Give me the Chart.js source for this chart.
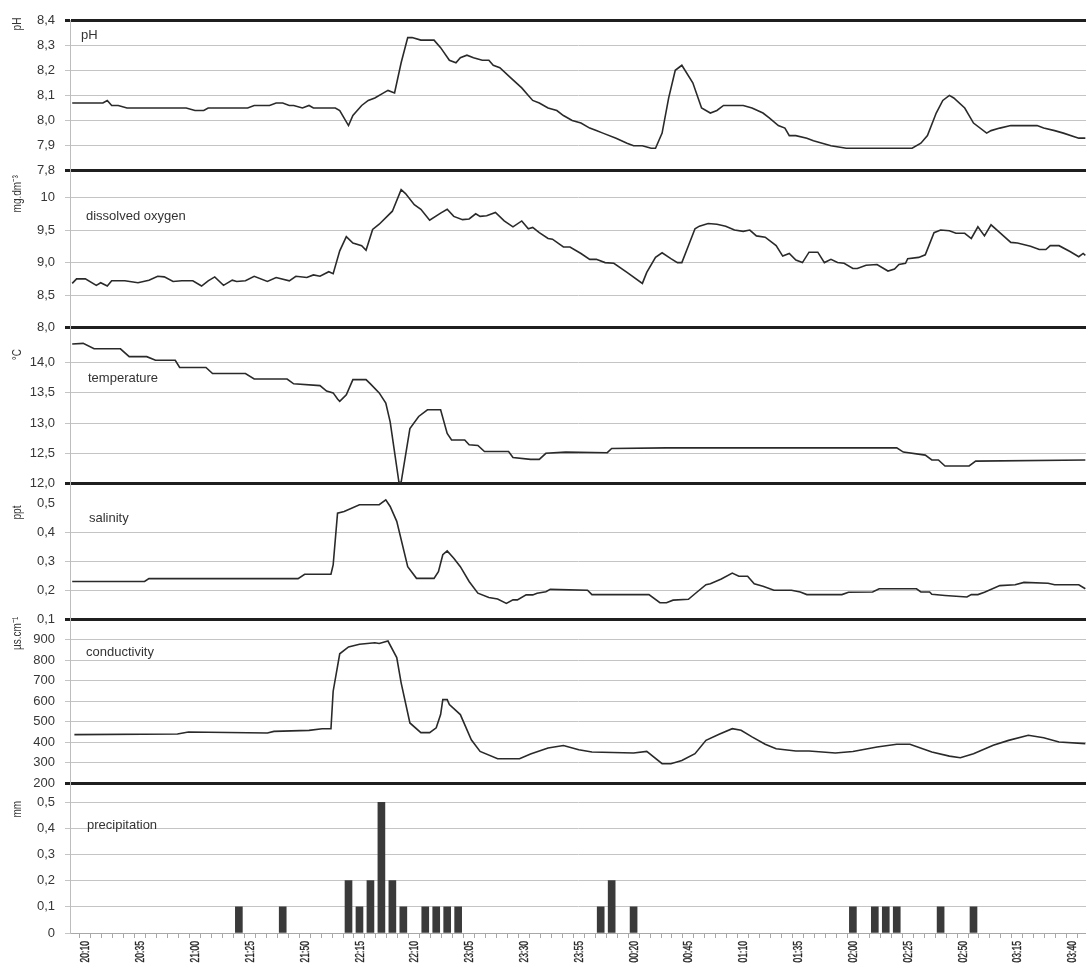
<!DOCTYPE html>
<html>
<head>
<meta charset="utf-8">
<title>Water quality and precipitation, night record</title>
<script src="https://cdn.jsdelivr.net/npm/chart.js@4.4.1/dist/chart.umd.min.js"></script>
<style>
  html, body { margin: 0; padding: 0; background: #ffffff; }
  #wrap { position: relative; width: 1086px; height: 972px; }
</style>
</head>
<body>
<div id="wrap"><canvas id="chart"></canvas></div>
<script>
// ---- measurements (time = minutes after 20:10) ----
const phTime = [-6, 8, 10, 12, 15, 19, 46, 50, 54, 56, 74, 77, 84, 87, 90, 93, 95, 99, 102, 104, 114, 116, 120, 122, 126, 129, 132, 136, 138, 141, 144, 147, 149, 153, 159, 162, 166, 169, 171, 174, 177, 181, 184, 186, 189, 194, 199, 202, 204, 207, 211, 215, 218, 222, 226, 230, 233, 236, 242, 247, 250, 254, 258, 260, 263, 266, 269, 272, 277, 281, 285, 288, 291, 300, 304, 309, 312, 316, 319, 321, 324, 329, 332, 336, 340, 347, 377, 381, 384, 388, 391, 394, 396, 401, 405, 411, 413, 417, 422, 434, 437, 442, 446, 453, 456];
const phValue = [8.07, 8.07, 8.08, 8.06, 8.06, 8.05, 8.05, 8.04, 8.04, 8.05, 8.05, 8.06, 8.06, 8.07, 8.07, 8.06, 8.06, 8.05, 8.06, 8.05, 8.05, 8.04, 7.98, 8.02, 8.06, 8.08, 8.09, 8.11, 8.12, 8.11, 8.23, 8.33, 8.33, 8.32, 8.32, 8.29, 8.24, 8.23, 8.25, 8.26, 8.25, 8.24, 8.24, 8.22, 8.21, 8.17, 8.13, 8.10, 8.08, 8.07, 8.05, 8.04, 8.02, 8.00, 7.99, 7.97, 7.96, 7.95, 7.93, 7.91, 7.90, 7.90, 7.89, 7.89, 7.95, 8.09, 8.20, 8.22, 8.15, 8.05, 8.03, 8.04, 8.06, 8.06, 8.05, 8.03, 8.01, 7.98, 7.97, 7.94, 7.94, 7.93, 7.92, 7.91, 7.90, 7.89, 7.89, 7.91, 7.94, 8.03, 8.08, 8.10, 8.09, 8.05, 7.99, 7.95, 7.96, 7.97, 7.98, 7.98, 7.97, 7.96, 7.95, 7.93, 7.93];

const oxygenTime = [-6, -4, 0, 5, 7, 10, 12, 18, 24, 29, 33, 36, 40, 44, 49, 53, 56, 59, 63, 67, 69, 73, 77, 83, 87, 93, 96, 101, 104, 107, 111, 113, 116, 119, 122, 126, 128, 131, 134, 140, 144, 146, 150, 153, 157, 162, 165, 168, 172, 175, 178, 180, 183, 187, 191, 195, 199, 202, 204, 207, 211, 213, 218, 221, 226, 230, 233, 237, 241, 247, 254, 256, 260, 263, 267, 270, 272, 275, 278, 280, 284, 288, 292, 296, 300, 303, 306, 310, 315, 318, 321, 324, 327, 330, 334, 337, 340, 343, 346, 350, 352, 356, 361, 366, 369, 371, 374, 375, 380, 383, 387, 390, 394, 397, 401, 404, 407, 410, 413, 417, 422, 425, 431, 435, 438, 440, 444, 449, 453, 455, 456];
const oxygenValue = [8.68, 8.75, 8.75, 8.65, 8.69, 8.64, 8.72, 8.72, 8.69, 8.73, 8.79, 8.78, 8.71, 8.72, 8.72, 8.64, 8.72, 8.78, 8.65, 8.73, 8.71, 8.72, 8.79, 8.71, 8.77, 8.72, 8.79, 8.77, 8.81, 8.79, 8.86, 8.83, 9.18, 9.40, 9.30, 9.26, 9.19, 9.51, 9.59, 9.79, 10.12, 10.06, 9.89, 9.82, 9.65, 9.76, 9.82, 9.71, 9.66, 9.67, 9.75, 9.71, 9.72, 9.77, 9.64, 9.55, 9.64, 9.52, 9.54, 9.46, 9.37, 9.36, 9.24, 9.24, 9.14, 9.05, 9.05, 9.00, 8.99, 8.85, 8.68, 8.85, 9.08, 9.15, 9.06, 9.00, 9.00, 9.26, 9.52, 9.56, 9.60, 9.59, 9.56, 9.50, 9.48, 9.50, 9.41, 9.39, 9.26, 9.10, 9.14, 9.04, 9.00, 9.16, 9.16, 9.00, 9.05, 9.00, 8.99, 8.91, 8.91, 8.96, 8.97, 8.87, 8.90, 8.97, 8.99, 9.06, 9.08, 9.12, 9.46, 9.50, 9.49, 9.45, 9.45, 9.37, 9.55, 9.41, 9.58, 9.46, 9.31, 9.30, 9.25, 9.20, 9.20, 9.26, 9.26, 9.17, 9.09, 9.14, 9.11];

const tempTime = [-6, -1, 4, 16, 20, 28, 32, 41, 43, 55, 58, 73, 77, 92, 95, 107, 110, 113, 115, 116, 119, 122, 128, 130, 134, 137, 139, 143, 144, 148, 152, 156, 162, 165, 167, 173, 175, 179, 182, 193, 195, 203, 207, 210, 219, 238, 240, 265, 370, 373, 383, 386, 389, 392, 403, 406, 456];
const tempValue = [14.31, 14.32, 14.23, 14.23, 14.10, 14.10, 14.04, 14.04, 13.92, 13.92, 13.82, 13.82, 13.73, 13.73, 13.65, 13.62, 13.53, 13.50, 13.40, 13.36, 13.47, 13.72, 13.72, 13.65, 13.50, 13.33, 13.02, 12.02, 12.02, 12.91, 13.11, 13.22, 13.22, 12.83, 12.72, 12.72, 12.64, 12.63, 12.53, 12.53, 12.43, 12.40, 12.40, 12.50, 12.52, 12.51, 12.58, 12.59, 12.59, 12.52, 12.47, 12.39, 12.39, 12.29, 12.29, 12.37, 12.39];

const salinityTime = [-6, 27, 29, 97, 100, 112, 113, 115, 118, 125, 134, 137, 139, 142, 147, 151, 159, 161, 163, 165, 168, 171, 175, 179, 184, 188, 192, 195, 197, 201, 204, 206, 210, 212, 229, 231, 257, 262, 265, 268, 275, 278, 283, 285, 290, 295, 298, 302, 305, 309, 314, 322, 326, 329, 345, 348, 359, 362, 379, 381, 385, 386, 392, 402, 404, 407, 410, 417, 424, 428, 439, 442, 453, 456];
const salinityValue = [0.23, 0.23, 0.24, 0.24, 0.255, 0.255, 0.287, 0.465, 0.471, 0.494, 0.494, 0.511, 0.488, 0.437, 0.281, 0.241, 0.241, 0.264, 0.322, 0.335, 0.31, 0.281, 0.23, 0.19, 0.175, 0.17, 0.155, 0.167, 0.167, 0.184, 0.184, 0.19, 0.195, 0.203, 0.2, 0.185, 0.185, 0.157, 0.157, 0.166, 0.169, 0.188, 0.219, 0.222, 0.239, 0.259, 0.248, 0.248, 0.222, 0.214, 0.2, 0.2, 0.194, 0.185, 0.185, 0.193, 0.194, 0.205, 0.205, 0.194, 0.194, 0.186, 0.182, 0.177, 0.185, 0.185, 0.193, 0.216, 0.219, 0.227, 0.224, 0.219, 0.219, 0.205];

const conductTime = [-5, 42, 47, 83, 86, 102, 108, 112, 113, 116, 120, 125, 132, 134, 138, 142, 144, 148, 153, 157, 160, 162, 163, 165, 166, 171, 176, 180, 188, 198, 203, 211, 218, 225, 231, 250, 256, 263, 267, 272, 278, 283, 289, 295, 299, 304, 310, 315, 324, 330, 342, 350, 361, 370, 376, 386, 394, 399, 405, 414, 421, 430, 437, 444, 456];
const conductValue = [437, 440, 450, 445, 453, 458, 466, 466, 649, 832, 865, 878, 886, 882, 894, 813, 690, 494, 447, 447, 470, 535, 608, 608, 584, 535, 412, 355, 319, 319, 342, 372, 384, 363, 352, 347, 355, 295, 295, 311, 344, 409, 439, 466, 458, 426, 390, 368, 357, 357, 347, 355, 377, 390, 390, 352, 332, 324, 344, 385, 409, 434, 422, 401, 393];

const rainTime = [70, 90, 120, 125, 130, 135, 140, 145, 155, 160, 165, 170, 235, 240, 250, 350, 360, 365, 370, 390, 405];
const rainValue = [0.1, 0.1, 0.2, 0.1, 0.2, 0.5, 0.2, 0.1, 0.1, 0.1, 0.1, 0.1, 0.1, 0.2, 0.1, 0.1, 0.1, 0.1, 0.1, 0.1, 0.1];

// ---- axis ticks ----
const timeLabels = ['20:10', '20:35', '21:00', '21:25', '21:50', '22:15', '22:10', '23:05', '23:30', '23:55', '00:20', '00:45', '01:10', '01:35', '02:00', '02:25', '02:50', '03:15', '03:40'];
const timeLabelStep = 25; // minutes between time labels
const phTicks = [7.8, 7.9, 8.0, 8.1, 8.2, 8.3, 8.4];
const phTickLabels = ['7,8', '7,9', '8,0', '8,1', '8,2', '8,3', '8,4'];
const oxygenTicks = [8.0, 8.5, 9.0, 9.5, 10];
const oxygenTickLabels = ['8,0', '8,5', '9,0', '9,5', '10'];
const tempTicks = [12.0, 12.5, 13.0, 13.5, 14.0];
const tempTickLabels = ['12,0', '12,5', '13,0', '13,5', '14,0'];
const salinityTicks = [0.1, 0.2, 0.3, 0.4, 0.5];
const salinityTickLabels = ['0,1', '0,2', '0,3', '0,4', '0,5'];
const conductTicks = [200, 300, 400, 500, 600, 700, 800, 900];
const conductTickLabels = ['200', '300', '400', '500', '600', '700', '800', '900'];
const rainTicks = [0, 0.1, 0.2, 0.3, 0.4, 0.5];
const rainTickLabels = ['0', '0,1', '0,2', '0,3', '0,4', '0,5'];

// ---- drawing ----
const FONT = '"Liberation Sans", Arial, Helvetica, sans-serif';
const INK = '#2a2a2a';
const GRID = '#c4c4c4';
const RULE = '#1f1f1f';
const TEXT = '#363636';
Chart.defaults.font.family = FONT;

const pairs = (xs, ys) => xs.map((x, i) => ({ x: x, y: ys[i] }));

// panel layout: name of the panel, unit title, vertical share
const panels = [
  { id: 'yPh',   name: 'pH',                unit: 'pH',        min: 7.8,  max: 8.4,   ticks: phTicks,       labels: phTickLabels,       share: 151, order: 6, ruleTop: true,  nameX: 81, nameDy: 19, unitDy: 4 },
  { id: 'yOx',   name: 'dissolved oxygen',  unit: 'mg.dm\u207B\u00B3', min: 8.0, max: 10.41, ticks: oxygenTicks, labels: oxygenTickLabels, share: 157, order: 5, nameX: 86, nameDy: 49, unitDy: 23 },
  { id: 'yTemp', name: 'temperature',       unit: '\u00B0C',   min: 12.0, max: 14.58, ticks: tempTicks,     labels: tempTickLabels,     share: 156, order: 4, nameX: 88, nameDy: 54, unitDy: 27 },
  { id: 'ySal',  name: 'salinity',          unit: 'ppt',       min: 0.1,  max: 0.567, ticks: salinityTicks, labels: salinityTickLabels, share: 136, order: 3, nameX: 89, nameDy: 39, unitDy: 29, hideTop: true },
  { id: 'yCond', name: 'conductivity',      unit: '\u00B5s.cm\u207B\u00B9', min: 200, max: 1000, ticks: conductTicks, labels: conductTickLabels, share: 164, order: 2, nameX: 86, nameDy: 37, unitDy: 14 },
  { id: 'yRain', name: 'precipitation',     unit: 'mm',        min: 0,    max: 0.573, ticks: rainTicks,     labels: rainTickLabels,     share: 150, order: 1, nameX: 87, nameDy: 46, unitDy: 26, axisBottom: true }
];

function panelAxis(p) {
  const isRule = v => (v === p.min && !p.axisBottom) || (p.ruleTop && v === p.max);
  const hidden = v => p.hideTop && v === p.ticks[p.ticks.length - 1];
  const color = c => {
    if (!c.tick) return GRID;
    if (isRule(c.tick.value)) return RULE;
    if (hidden(c.tick.value)) return 'rgba(0,0,0,0)';
    return GRID;
  };
  const width = c => (c.tick && isRule(c.tick.value)) ? 3 : 1;
  return {
    type: 'linear',
    position: 'left',
    stack: 'panels',
    stackWeight: p.share,
    weight: p.order,
    bounds: 'data',
    min: p.min,
    max: p.max,
    afterBuildTicks: s => { s.ticks = p.ticks.map(v => ({ value: v })); },
    afterFit: s => { s.width = 70; },
    ticks: {
      autoSkip: false,
      padding: 10,
      color: TEXT,
      font: { size: 13 },
      callback: (v, i) => p.labels[i]
    },
    grid: {
      color: color,
      lineWidth: width,
      tickColor: color,
      tickWidth: width,
      tickLength: 5
    },
    border: { display: true, color: '#bdbdbd', width: 1 }
  };
}

const scales = {
  x: {
    type: 'linear',
    bounds: 'data',
    offset: false,
    min: -7,
    max: 456.3,
    // tick marks sit on the 5-minute slot boundaries
    afterBuildTicks: s => {
      const t = [];
      for (let v = -2.5; v <= 455; v += 5) t.push({ value: v });
      s.ticks = t;
    },
    afterFit: s => {
      s.height = 39;
      s.paddingLeft = 0;
      s.paddingRight = 0;
    },
    ticks: { autoSkip: false, callback: () => '' },
    grid: {
      offset: false,
      drawOnChartArea: false,
      tickLength: 5,
      tickColor: '#a8a8a8',
      tickWidth: 1
    },
    border: { display: true, color: '#a8a8a8', width: 1 }
  }
};
panels.forEach(p => { scales[p.id] = panelAxis(p); });

const lineStyle = { type: 'line', borderColor: INK, borderWidth: 1.6, pointRadius: 0, tension: 0, fill: false };

// panel names, rotated unit titles and the narrow vertical time labels
const panelText = {
  id: 'panelText',
  afterDraw(chart) {
    const ctx = chart.ctx;
    panels.forEach(p => {
      const s = chart.scales[p.id];
      ctx.save();
      ctx.fillStyle = '#333333';
      ctx.font = '13px ' + FONT;
      ctx.textAlign = 'left';
      ctx.textBaseline = 'alphabetic';
      ctx.fillText(p.name, p.nameX, s.top + p.nameDy);
      ctx.translate(18, s.top + p.unitDy);
      ctx.rotate(-Math.PI / 2);
      ctx.scale(0.8, 1);
      ctx.font = '12.5px ' + FONT;
      ctx.textAlign = 'center';
      ctx.textBaseline = 'middle';
      ctx.fillText(p.unit, 0, 0);
      ctx.restore();
    });

    const xs = chart.scales.x;
    timeLabels.forEach((label, i) => {
      ctx.save();
      ctx.translate(xs.getPixelForValue(i * timeLabelStep) + 0.5, xs.top + 8);
      ctx.rotate(-Math.PI / 2);
      ctx.scale(0.66, 1);
      ctx.fillStyle = '#262626';
      ctx.strokeStyle = '#262626';
      ctx.lineWidth = 0.35;
      ctx.font = '13px ' + FONT;
      ctx.textAlign = 'right';
      ctx.textBaseline = 'middle';
      ctx.fillText(label, 0, 0);
      ctx.strokeText(label, 0, 0);
      ctx.restore();
    });
  }
};

new Chart(document.getElementById('chart'), {
  type: 'line',
  data: {
    datasets: [
      Object.assign({ label: 'pH', yAxisID: 'yPh', data: pairs(phTime, phValue) }, lineStyle),
      Object.assign({ label: 'dissolved oxygen', yAxisID: 'yOx', data: pairs(oxygenTime, oxygenValue) }, lineStyle),
      Object.assign({ label: 'temperature', yAxisID: 'yTemp', data: pairs(tempTime, tempValue) }, lineStyle),
      Object.assign({ label: 'salinity', yAxisID: 'ySal', data: pairs(salinityTime, salinityValue) }, lineStyle),
      Object.assign({ label: 'conductivity', yAxisID: 'yCond', data: pairs(conductTime, conductValue) }, lineStyle),
      {
        type: 'bar',
        label: 'precipitation',
        yAxisID: 'yRain',
        data: pairs(rainTime, rainValue),
        backgroundColor: '#3a3a3a',
        borderWidth: 0,
        barThickness: 7
      }
    ]
  },
  options: {
    responsive: true,
    maintainAspectRatio: false,
    animation: false,
    events: [],
    layout: { padding: { top: 20, left: 0, right: 0, bottom: 0 } },
    plugins: { legend: { display: false }, tooltip: { enabled: false }, title: { display: false } },
    scales: scales
  },
  plugins: [panelText]
});
</script>
</body>
</html>
